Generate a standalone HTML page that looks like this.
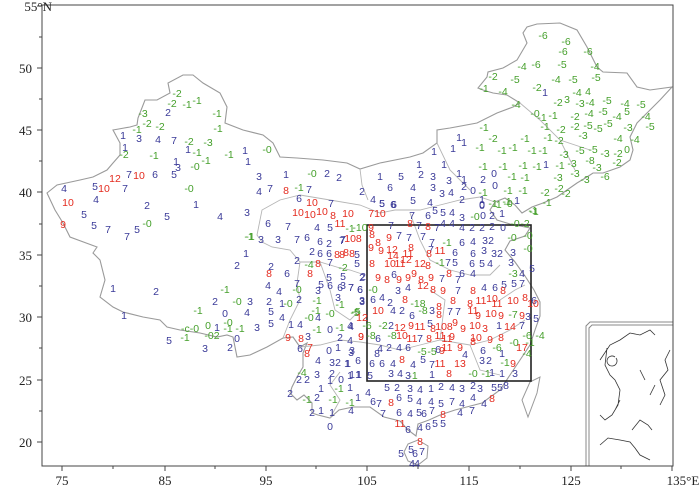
<!DOCTYPE html>
<html><head><meta charset="utf-8"><style>
html,body{margin:0;padding:0;background:#fff}
svg{display:block}
text{font-family:"Liberation Sans",sans-serif;font-size:10.5px;text-anchor:middle}
.b{fill:#3a3a98}.r{fill:#e42a1e}.g{fill:#46a02c}
.ax{font-family:"Liberation Serif",serif;font-size:13px;fill:#222}
</style></head><body>
<svg width="700" height="489" viewBox="0 0 700 489" xmlns="http://www.w3.org/2000/svg">
<rect x="0" y="0" width="700" height="489" fill="#fff"/>
<!-- China outline -->
<path fill="none" stroke="#9a9a9a" stroke-width="1.1" d="M47,193 L57,185 80,180 93,177 107,170 113,163 120,155 120,143 113,130 130,127 137,125 138,118 145,100 157,100 170,93 168,83 183,75 193,75 203,83 220,93 227,107 225,123 243,130 263,135 273,143 280,157 297,158 323,160 347,163 360,169 380,163 410,157 423,153 437,143 437,130 450,128 477,123 497,113 513,107 520,103 507,95 493,93 483,90 478,88 487,77 488,72 503,68 517,60 527,43 523,33 527,27 537,24 560,23 577,30 587,47 597,67 603,72 627,73 637,87 650,90 672,87 660,100 650,110 637,123 630,137 633,150 630,160 620,167 603,173 593,173 587,177 577,183 567,190 557,197 543,203 532,207 522,213 515,205 505,198 495,202 490,210 497,220 510,224 530,228 525,236 510,241 505,250 515,262 525,276 534,290 540,302 540,316 535,330 530,345 520,360 510,375 500,390 482,403 455,410 440,415 429,420 418,424 416,436 408,430 400,421 384,417 370,407 353,407 339,410 330,418 318,415 312,413 312,403 304,395 297,400 290,393 292,387 297,377 303,367 303,353 307,343 300,347 293,337 283,338 267,347 250,355 237,357 233,337 227,335 217,337 200,333 180,330 167,327 160,320 143,317 123,312 113,307 100,297 105,280 100,260 93,253 97,247 70,237 63,223 55,210 47,193 Z"/>
<!-- Taiwan -->
<path fill="none" stroke="#9a9a9a" d="M530,382 L540,377 537,393 528,417 522,400 Z"/>
<!-- Hainan -->
<path fill="none" stroke="#9a9a9a" d="M408,444 L418,440 428,446 427,458 418,465 408,461 404,452 Z"/>
<!-- some internal borders -->
<path fill="none" stroke="#b5b5b5" stroke-width="0.9" d="M283,338 L290,320 300,300 297,283 300,262 290,250 272,247 262,242 257,235 262,210 280,200 300,195 330,200 360,205 380,213 395,210 420,210 440,205 460,200 480,197 495,202 M300,262 L320,262 340,268 350,270 365,275 M360,169 L362,185 368,200 M300,347 L320,345 340,340 360,342 380,345 400,350 420,345 440,340 470,345 490,340 510,330 525,320 M330,418 L340,400 330,385 340,372 M320,262 L330,290 335,310 350,320 360,310 M410,213 L420,240 430,260 450,270 470,275 490,275 500,265 M440,340 L445,300 430,290 M470,345 L480,370 500,375 M500,300 L515,290 525,285 M437,143 L450,170 470,190 M520,103 L540,120 560,140 590,150 M560,140 L575,170"/>
<!-- Box -->
<rect x="367" y="225" width="164" height="156" fill="none" stroke="#222" stroke-width="1.6"/>
<!-- inset -->
<path fill="#fff" stroke="#888" stroke-width="1" d="M586,466 L586,326 590,322 673,322"/>
<path fill="none" stroke="#888" stroke-width="1" d="M589,466 L589,328 592,325 673,325"/>
<path fill="none" stroke="#333" stroke-width="0.8" d="M600,360 L610,345 620,340 630,333 640,335 650,330 655,335 M607,348 L605,365 610,375 615,380 620,390 618,405 612,415 605,420 600,415 M615,357 A5,5 0 1 0 616,358 M640,370 L645,380 M670,350 L665,360 668,370 660,380 665,395 660,405 M650,395 L655,385 M632,430 L640,420 648,425 652,430 M600,445 L608,438 620,440 630,442 635,448 640,455 650,460 M620,400 L615,410"/>
<!-- axes -->
<rect x="42" y="5" width="631" height="461" fill="none" stroke="#444" stroke-width="1"/>
<g stroke="#444" stroke-width="1">
<path d="M62,466v5M113,466v3M165,466v5M215,466v3M266,466v5M316,466v3M367,466v5M418,466v3M469,466v5M520,466v3M571,466v5M621,466v3M672,466v5"/>
<path d="M42,6h-5M42,37h-3M42,68h-5M42,99h-3M42,130h-5M42,161h-3M42,192h-5M42,224h-3M42,255h-5M42,286h-3M42,317h-5M42,348h-3M42,380h-5M42,411h-3M42,442h-5"/>
</g>
<text class="ax" x="62" y="485">75</text><text class="ax" x="165" y="485">85</text><text class="ax" x="266" y="485">95</text><text class="ax" x="367" y="485">105</text><text class="ax" x="469" y="485">115</text><text class="ax" x="571" y="485">125</text><text class="ax" x="683" y="485">135°E</text>
<g class="ax" style="text-anchor:end">
<text class="ax" x="52" y="11" style="text-anchor:end">55°N</text>
<text class="ax" x="32" y="73" style="text-anchor:end">50</text>
<text class="ax" x="32" y="135" style="text-anchor:end">45</text>
<text class="ax" x="32" y="197" style="text-anchor:end">40</text>
<text class="ax" x="32" y="260" style="text-anchor:end">35</text>
<text class="ax" x="32" y="322" style="text-anchor:end">30</text>
<text class="ax" x="32" y="385" style="text-anchor:end">25</text>
<text class="ax" x="32" y="447" style="text-anchor:end">20</text>
</g>
<!-- data: y already offset +4 -->
<g class="g">
<text x="177" y="97">-2</text><text x="172" y="107">-2</text><text x="187" y="108">-1</text><text x="197" y="104">-1</text><text x="143" y="117">-3</text><text x="217" y="117">-1</text><text x="147" y="127">-2</text><text x="160" y="130">-2</text><text x="137" y="133">-1</text><text x="218" y="132">-1</text><text x="189" y="145">-2</text><text x="208" y="146">-3</text><text x="124" y="158">-2</text><text x="154" y="159">-1</text><text x="197" y="156">-1</text><text x="229" y="158">-1</text><text x="267" y="153">-0</text><text x="195" y="170">-0</text><text x="206" y="164">-1</text><text x="189" y="192">-0</text><text x="147" y="227">-0</text><text x="249" y="240">-1</text><text x="312" y="177">-0</text><text x="299" y="191">-1</text><text x="350" y="232">-1</text>
<text x="250" y="240">-1</text><text x="309" y="268">-4</text><text x="343" y="271">-2</text><text x="225" y="293">-1</text><text x="297" y="293">-0</text><text x="237" y="305">-0</text><text x="288" y="307">-0</text><text x="317" y="304">-1</text><text x="340" y="308">-1</text><text x="198" y="314">-1</text><text x="309" y="321">-0</text><text x="316" y="314">-1</text><text x="330" y="317">-0</text><text x="355" y="316">-5</text><text x="190" y="332">-c-0</text><text x="208" y="329">0</text><text x="228" y="326">-0</text><text x="228" y="332">-1</text><text x="240" y="332">-1</text><text x="317" y="333">-1</text><text x="340" y="331">-1</text><text x="212" y="339">-02</text><text x="185" y="341">-1</text><text x="302" y="376">-4</text>
<text x="307" y="403">-1</text><text x="333" y="403">-1</text><text x="350" y="406">-1</text><text x="339" y="392">-1</text>
<text x="360" y="231">-10</text><text x="475" y="220">-0</text><text x="497" y="208">-1</text><text x="508" y="207">-0</text><text x="533" y="214">-1</text><text x="515" y="227">-0</text><text x="525" y="227">-2</text><text x="447" y="246">-1</text><text x="512" y="241">-0</text><text x="528" y="239">-0</text><text x="528" y="252">-0</text><text x="440" y="266">-1</text><text x="373" y="293">-0</text><text x="513" y="277">-3</text><text x="418" y="307">-18</text><text x="423" y="314">-8</text><text x="513" y="318">-7</text><text x="356" y="315">-5</text><text x="367" y="329">-6</text><text x="383" y="329">-2</text><text x="371" y="339">-8</text><text x="392" y="339">-8</text><text x="514" y="346">-0</text><text x="527" y="339">-6</text><text x="530" y="346">-1</text><text x="422" y="355">-5</text><text x="432" y="355">-5</text><text x="497" y="351">-6</text><text x="527" y="357">-4</text><text x="505" y="366">-1</text><text x="473" y="377">-0</text><text x="486" y="377">-1</text><text x="413" y="379">-1</text><text x="540" y="339">-4</text>
<text x="543" y="39">-6</text><text x="566" y="45">-6</text><text x="563" y="55">-6</text><text x="588" y="55">-6</text><text x="522" y="70">-4</text><text x="536" y="68">-6</text><text x="562" y="68">-5</text><text x="595" y="70">-4</text><text x="493" y="80">-2</text><text x="515" y="83">-5</text><text x="556" y="83">-4</text><text x="573" y="83">-5</text><text x="596" y="81">-5</text><text x="484" y="92">-1</text><text x="503" y="95">-4</text><text x="537" y="91">-2</text><text x="577" y="96">-4</text><text x="588" y="95">4</text><text x="516" y="108">-4</text><text x="558" y="106">-2</text><text x="567" y="103">3</text><text x="580" y="107">-3</text><text x="590" y="106">-4</text><text x="607" y="104">-5</text><text x="625" y="107">-4</text><text x="641" y="108">-5</text>
<text x="535" y="117">-0</text><text x="542" y="121">-1</text><text x="553" y="119">-1</text><text x="575" y="120">-2</text><text x="589" y="117">-4</text><text x="603" y="115">-5</text><text x="617" y="120">-4</text><text x="627" y="115">5</text><text x="646" y="120">-4</text><text x="484" y="131">-1</text><text x="545" y="130">-1</text><text x="561" y="133">-2</text><text x="575" y="130">-2</text><text x="588" y="129">-5</text><text x="598" y="132">-5</text><text x="608" y="127">-5</text><text x="628" y="131">-3</text><text x="650" y="130">-5</text>
<text x="493" y="142">-2</text><text x="525" y="142">-1</text><text x="548" y="141">-1</text><text x="559" y="144">-2</text><text x="583" y="139">-3</text><text x="618" y="142">-4</text><text x="635" y="143">-4</text><text x="480" y="151">-1</text><text x="502" y="154">-1</text><text x="513" y="151">-1</text><text x="532" y="154">-1</text><text x="543" y="154">-1</text><text x="564" y="158">-3</text><text x="580" y="154">-5</text><text x="593" y="153">-5</text><text x="605" y="157">-3</text><text x="618" y="157">-2</text><text x="627" y="153">0</text><text x="590" y="164">-8</text><text x="617" y="166">-2</text><text x="605" y="180">-6</text><text x="483" y="170">-1</text><text x="503" y="170">-1</text><text x="523" y="169">-1</text><text x="537" y="170">-1</text><text x="560" y="169">-1</text><text x="572" y="167">-3</text><text x="597" y="171">-3</text><text x="512" y="180">-1</text><text x="525" y="181">-1</text><text x="558" y="181">-3</text><text x="575" y="177">-3</text><text x="585" y="183">-3</text>
<text x="483" y="196">-1</text><text x="508" y="194">-1</text><text x="523" y="194">-1</text><text x="545" y="196">-2</text><text x="559" y="192">-2</text><text x="566" y="197">-2</text><text x="507" y="205">-1</text><text x="547" y="206">-1</text><text x="534" y="215">-1</text><text x="493" y="207">-1</text>
</g>
<g class="b">
<text x="168" y="116">2</text><text x="123" y="139">1</text><text x="139" y="142">3</text><text x="158" y="143">4</text><text x="174" y="144">7</text><text x="125" y="151">1</text><text x="188" y="153">1</text><text x="245" y="154">1</text><text x="248" y="165">1</text><text x="176" y="165">1</text><text x="178" y="171">3</text><text x="129" y="178">7</text><text x="155" y="178">6</text><text x="174" y="178">5</text><text x="64" y="192">4</text><text x="95" y="190">5</text><text x="125" y="192">7</text><text x="96" y="203">4</text><text x="147" y="209">2</text><text x="196" y="208">1</text><text x="84" y="218">5</text><text x="167" y="220">5</text><text x="220" y="220">4</text><text x="247" y="216">3</text><text x="94" y="229">5</text><text x="108" y="233">7</text><text x="127" y="240">7</text><text x="137" y="233">5</text><text x="268" y="227">6</text><text x="288" y="230">7</text><text x="261" y="243">3</text><text x="278" y="243">3</text><text x="246" y="257">1</text>
<text x="259" y="180">3</text><text x="286" y="178">1</text><text x="327" y="177">2</text><text x="339" y="181">2</text><text x="259" y="195">4</text><text x="270" y="192">7</text><text x="309" y="193">7</text><text x="299" y="202">6</text><text x="331" y="207">7</text><text x="317" y="231">4</text><text x="330" y="231">5</text><text x="307" y="241">6</text><text x="342" y="244">7</text><text x="312" y="255">2</text><text x="320" y="257">6</text><text x="329" y="257">6</text><text x="297" y="243">7</text><text x="320" y="245">6</text><text x="329" y="247">2</text>
<text x="237" y="269">2</text><text x="271" y="270">2</text><text x="297" y="264">2</text><text x="330" y="266">7</text><text x="357" y="267">5</text><text x="287" y="277">6</text><text x="329" y="281">5</text><text x="343" y="280">5</text><text x="363" y="280">2</text><text x="113" y="292">1</text><text x="156" y="295">2</text><text x="268" y="289">4</text><text x="279" y="295">4</text><text x="297" y="287">7</text><text x="318" y="294">3</text><text x="321" y="288">5</text><text x="330" y="289">6</text><text x="340" y="291">6</text><text x="351" y="291">7</text><text x="360" y="293">6</text><text x="215" y="305">2</text><text x="250" y="305">3</text><text x="269" y="305">2</text><text x="282" y="307">1</text><text x="299" y="303">2</text><text x="338" y="301">3</text><text x="362" y="305">3</text><text x="225" y="317">0</text><text x="247" y="316">4</text><text x="271" y="315">5</text><text x="282" y="321">4</text><text x="291" y="328">1</text><text x="300" y="328">4</text><text x="318" y="321">4</text><text x="124" y="319">1</text><text x="217" y="331">1</text><text x="257" y="331">3</text><text x="271" y="327">5</text><text x="330" y="333">0</text><text x="351" y="330">4</text><text x="169" y="344">5</text><text x="205" y="352">3</text><text x="237" y="342">0</text><text x="230" y="351">2</text><text x="308" y="340">3</text><text x="340" y="341">2</text><text x="350" y="344">4</text><text x="300" y="352">6</text><text x="329" y="354">0</text><text x="338" y="351">1</text><text x="352" y="354">3</text><text x="318" y="364">4</text><text x="332" y="366">3</text><text x="338" y="366">2</text><text x="348" y="367">1</text><text x="358" y="364">6</text><text x="299" y="383">2</text><text x="307" y="383">2</text><text x="317" y="378">3</text><text x="332" y="377">2</text><text x="330" y="384">1</text><text x="341" y="383">0</text><text x="352" y="378">1</text><text x="359" y="378">1</text>
<text x="382" y="207">5</text><text x="393" y="208">6</text><text x="412" y="219">7</text><text x="428" y="219">6</text><text x="435" y="214">5</text><text x="443" y="216">5</text><text x="452" y="216">4</text><text x="462" y="221">3</text><text x="483" y="219">0</text><text x="492" y="219">2</text><text x="502" y="217">1</text><text x="482" y="208">0</text><text x="373" y="203">4</text><text x="382" y="207">5</text><text x="394" y="208">6</text><text x="413" y="204">5</text><text x="430" y="206">4</text><text x="462" y="203">2</text><text x="482" y="203">1</text><text x="482" y="209">0</text><text x="362" y="195">2</text><text x="390" y="191">6</text><text x="413" y="191">4</text><text x="433" y="191">3</text><text x="442" y="197">3</text><text x="451" y="196">4</text><text x="464" y="190">2</text><text x="473" y="194">0</text><text x="495" y="189">0</text><text x="380" y="180">1</text><text x="401" y="180">5</text><text x="421" y="178">2</text><text x="433" y="180">3</text><text x="449" y="184">3</text><text x="459" y="177">1</text><text x="464" y="183">1</text><text x="483" y="183">2</text><text x="494" y="177">0</text><text x="419" y="168">1</text><text x="444" y="168">1</text><text x="434" y="155">1</text><text x="453" y="152">1</text><text x="459" y="141">1</text><text x="464" y="146">1</text><text x="545" y="96">1</text><text x="546" y="168">1</text><text x="517" y="204">1</text>
<text x="391" y="229">7</text><text x="419" y="229">7</text><text x="437" y="231">7</text><text x="443" y="227">4</text><text x="452" y="227">4</text><text x="462" y="231">4</text><text x="472" y="231">2</text><text x="482" y="231">2</text><text x="492" y="230">2</text><text x="503" y="231">0</text><text x="343" y="243">7</text><text x="399" y="239">7</text><text x="409" y="241">7</text><text x="423" y="240">7</text><text x="432" y="246">7</text><text x="462" y="246">6</text><text x="473" y="245">4</text><text x="485" y="244">3</text><text x="491" y="244">2</text><text x="431" y="253">7</text><text x="455" y="256">6</text><text x="473" y="257">6</text><text x="484" y="254">3</text><text x="494" y="257">3</text><text x="500" y="257">2</text><text x="513" y="256">3</text><text x="357" y="258">5</text><text x="448" y="266">7</text><text x="455" y="266">5</text><text x="472" y="267">6</text><text x="482" y="267">5</text><text x="490" y="267">4</text><text x="511" y="266">3</text><text x="362" y="281">2</text><text x="394" y="278">6</text><text x="442" y="282">7</text><text x="458" y="283">7</text><text x="462" y="277">6</text><text x="473" y="277">4</text><text x="522" y="277">4</text><text x="343" y="289">3</text><text x="351" y="291">7</text><text x="360" y="293">6</text><text x="398" y="294">3</text><text x="408" y="291">4</text><text x="458" y="294">7</text><text x="484" y="291">4</text><text x="495" y="291">6</text><text x="504" y="288">5</text><text x="514" y="287">5</text><text x="522" y="287">7</text><text x="362" y="304">3</text><text x="373" y="303">6</text><text x="382" y="301">4</text><text x="390" y="306">2</text><text x="393" y="314">4</text><text x="402" y="314">2</text><text x="412" y="319">6</text><text x="432" y="314">3</text><text x="450" y="315">7</text><text x="458" y="315">7</text><text x="350" y="329">4</text><text x="391" y="329">2</text><text x="430" y="327">5</text><text x="499" y="329">1</text><text x="522" y="329">7</text><text x="378" y="342">6</text><text x="420" y="342">7</text><text x="351" y="356">3</text><text x="377" y="357">8</text><text x="380" y="352">4</text><text x="389" y="351">2</text><text x="399" y="351">4</text><text x="408" y="351">6</text><text x="438" y="353">6</text><text x="465" y="358">4</text><text x="483" y="354">6</text><text x="502" y="357">1</text><text x="347" y="367">1</text><text x="372" y="367">6</text><text x="382" y="367">6</text><text x="393" y="367">4</text><text x="413" y="368">4</text><text x="423" y="363">5</text><text x="432" y="368">7</text><text x="482" y="364">3</text><text x="489" y="364">2</text><text x="350" y="379">1</text><text x="358" y="378">1</text><text x="370" y="379">5</text><text x="391" y="377">3</text><text x="400" y="377">4</text><text x="408" y="379">3</text><text x="432" y="378">1</text><text x="492" y="376">1</text><text x="502" y="377">1</text><text x="515" y="377">3</text><text x="532" y="272">5</text><text x="534" y="304">6</text><text x="528" y="320">3</text><text x="536" y="322">5</text>
<text x="290" y="397">2</text><text x="321" y="392">1</text><text x="350" y="391">1</text><text x="368" y="396">4</text><text x="387" y="391">5</text><text x="397" y="391">2</text><text x="410" y="392">3</text><text x="420" y="393">4</text><text x="431" y="392">1</text><text x="441" y="390">2</text><text x="452" y="391">4</text><text x="462" y="392">3</text><text x="473" y="389">2</text><text x="480" y="392">3</text><text x="494" y="391">5</text><text x="500" y="391">5</text><text x="506" y="389">8</text><text x="317" y="401">2</text><text x="358" y="401">1</text><text x="373" y="405">6</text><text x="379" y="407">7</text><text x="399" y="401">6</text><text x="410" y="402">5</text><text x="419" y="405">4</text><text x="431" y="405">4</text><text x="441" y="407">5</text><text x="452" y="405">7</text><text x="462" y="407">4</text><text x="473" y="401">4</text><text x="484" y="407">4</text><text x="312" y="416">2</text><text x="321" y="414">1</text><text x="332" y="416">1</text><text x="351" y="414">4</text><text x="383" y="417">7</text><text x="399" y="416">6</text><text x="410" y="417">4</text><text x="419" y="416">5</text><text x="424" y="417">6</text><text x="432" y="414">7</text><text x="460" y="416">4</text><text x="472" y="414">7</text><text x="330" y="430">0</text><text x="408" y="433">6</text><text x="420" y="431">4</text><text x="428" y="430">6</text><text x="435" y="427">5</text><text x="443" y="427">5</text><text x="401" y="457">5</text><text x="411" y="453">5</text><text x="415" y="457">6</text><text x="422" y="455">7</text><text x="412" y="467">4</text><text x="417" y="467">4</text>
</g>
<g class="r">
<text x="139" y="179">10</text><text x="115" y="182">12</text><text x="104" y="192">10</text><text x="68" y="206">10</text><text x="63" y="228">9</text><text x="286" y="194">8</text><text x="312" y="206">10</text><text x="298" y="216">10</text><text x="310" y="218">10</text><text x="322" y="215">10</text><text x="333" y="219">8</text><text x="348" y="217">10</text><text x="340" y="227">11</text><text x="337" y="258">8</text><text x="342" y="258">8</text><text x="352" y="257">8</text><text x="318" y="267">8</text><text x="269" y="277">8</text><text x="310" y="277">8</text><text x="288" y="341">9</text><text x="301" y="342">8</text><text x="310" y="351">7</text><text x="307" y="357">8</text><text x="361" y="340">9</text>
<text x="377" y="217">710</text><text x="371" y="231">9</text><text x="410" y="227">8</text><text x="428" y="230">8</text><text x="353" y="242">108</text><text x="372" y="238">8</text><text x="371" y="251">9</text><text x="378" y="246">8</text><text x="389" y="241">9</text><text x="346" y="256">8</text><text x="381" y="254">9</text><text x="392" y="253">12</text><text x="393" y="259">14</text><text x="408" y="257">11</text><text x="411" y="251">8</text><text x="429" y="257">8</text><text x="440" y="254">11</text><text x="372" y="267">8</text><text x="390" y="267">10</text><text x="400" y="267">11</text><text x="406" y="263">12</text><text x="420" y="267">12</text><text x="428" y="269">8</text><text x="378" y="281">9</text><text x="387" y="283">8</text><text x="399" y="283">9</text><text x="408" y="281">9</text><text x="414" y="277">9</text><text x="421" y="283">8</text><text x="431" y="281">9</text><text x="449" y="277">8</text><text x="423" y="289">12</text><text x="433" y="293">8</text><text x="443" y="294">9</text><text x="473" y="294">8</text><text x="503" y="294">8</text><text x="405" y="303">8</text><text x="439" y="310">8</text><text x="453" y="304">8</text><text x="470" y="307">8</text><text x="481" y="304">11</text><text x="492" y="302">10</text><text x="497" y="307">11</text><text x="513" y="304">10</text><text x="525" y="301">8</text><text x="533" y="307">10</text><text x="378" y="314">10</text><text x="362" y="321">12</text><text x="439" y="318">8</text><text x="473" y="314">11</text><text x="478" y="319">9</text><text x="491" y="317">10</text><text x="501" y="319">9</text><text x="522" y="319">9</text><text x="400" y="331">12</text><text x="411" y="329">9</text><text x="420" y="330">11</text><text x="433" y="332">8</text><text x="444" y="330">108</text><text x="455" y="326">9</text><text x="463" y="332">9</text><text x="475" y="329">10</text><text x="485" y="332">3</text><text x="510" y="330">14</text><text x="361" y="340">9</text><text x="402" y="339">10</text><text x="412" y="342">11</text><text x="429" y="342">8</text><text x="440" y="339">11</text><text x="447" y="342">11</text><text x="452" y="340">9</text><text x="476" y="341">10</text><text x="473" y="345">8</text><text x="490" y="343">9</text><text x="501" y="341">8</text><text x="442" y="354">9</text><text x="447" y="351">11</text><text x="460" y="351">9</text><text x="522" y="351">17</text><text x="402" y="363">8</text><text x="440" y="367">11</text><text x="460" y="367">13</text><text x="513" y="367">9</text><text x="449" y="377">8</text>
<text x="391" y="406">8</text><text x="492" y="402">8</text><text x="443" y="418">8</text><text x="400" y="427">11</text><text x="420" y="445">8</text>
</g>
</svg>
</body></html>
